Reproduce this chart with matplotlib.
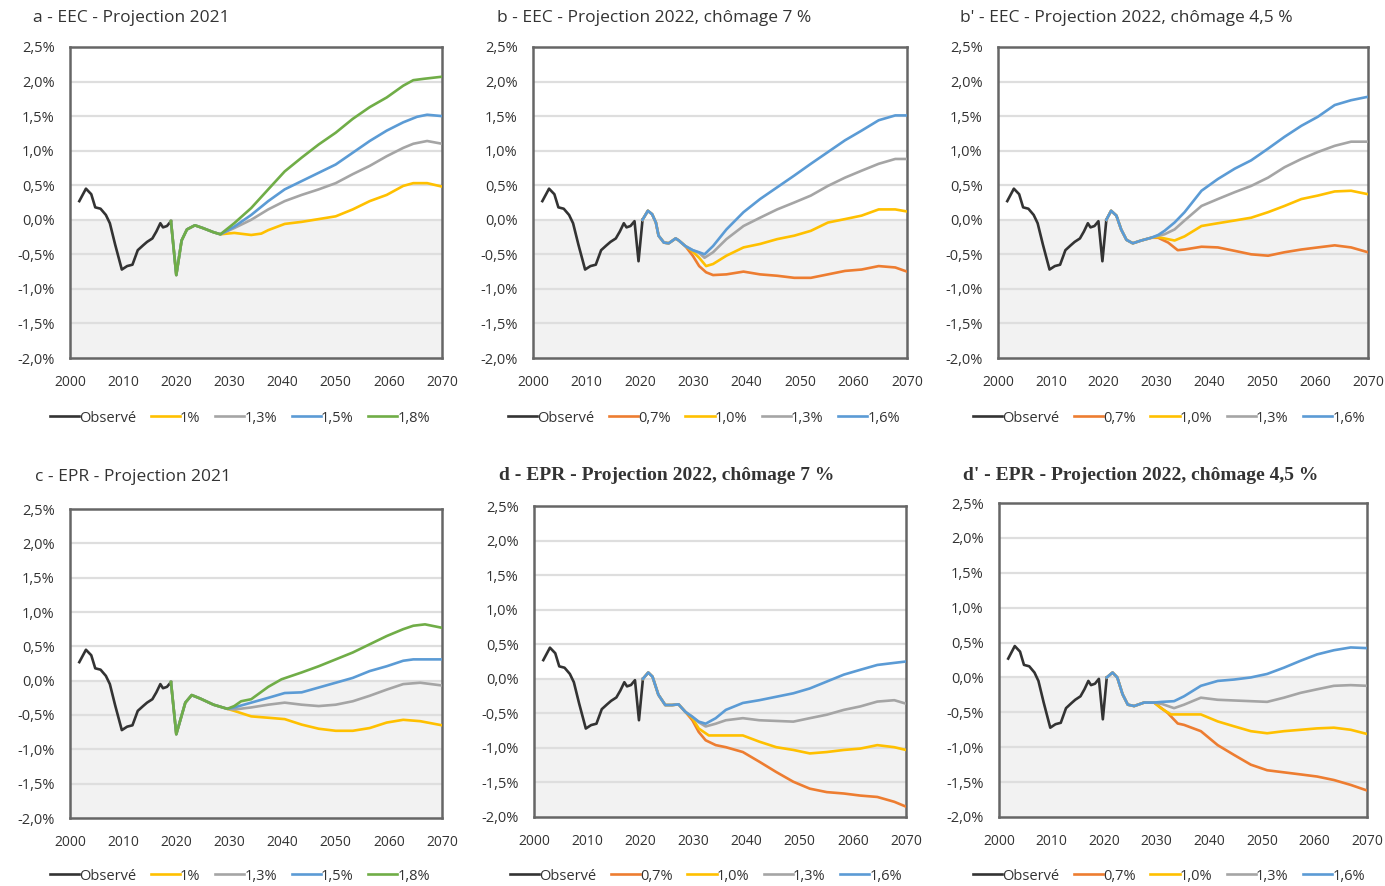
"""
Six panels: EEC / EPR, projections 2021 and 2022 (chômage 7 % / 4,5 %)
"""
import matplotlib
matplotlib.use("Agg")
import matplotlib.pyplot as plt
from matplotlib.ticker import FuncFormatter

plt.rcParams["font.family"] = ["Open Sans", "DejaVu Sans"]

# ── Data ──────────────────────────────────────────────────────────────────────
obs_years = [2001.75, 2003.0, 2004.0, 2004.75, 2005.75, 2006.75, 2007.5, 2008.5,
             2009.75, 2010.75, 2011.75, 2012.75, 2013.75, 2014.5, 2015.5, 2016.25,
             2017.0, 2017.5, 2018.25, 2019.0, 2019.75, 2020.5]
obs_values = [0.27, 0.45, 0.37, 0.18, 0.16, 0.07, -0.05, -0.36,
              -0.72, -0.67, -0.65, -0.44, -0.37, -0.32, -0.27, -0.17,
              -0.05, -0.11, -0.09, -0.02, -0.60, 0.00]
obs_end_2021 = 2019.0   # observed part shown in the 2021 projections

labels_2021 = ["1%", "1,3%", "1,5%", "1,8%"]
labels_2022 = ["0,7%", "1,0%", "1,3%", "1,6%"]

# panel a - EEC 2021
a_common_years = [2019.0, 2020.0, 2021.0, 2022.0, 2023.5, 2025.0, 2027.0, 2028.3]
a_common_values = [-0.02, -0.80, -0.30, -0.14, -0.08, -0.12, -0.18, -0.21]
a_years = [
    [2030.9, 2034.1, 2036.0, 2037.3, 2040.4, 2043.6, 2046.8, 2050.0, 2053.2, 2056.4, 2059.6, 2062.7, 2064.6, 2067.2, 2070],
    [2030.9, 2034.1, 2037.3, 2040.4, 2043.6, 2046.8, 2050.0, 2053.2, 2056.4, 2059.6, 2062.7, 2064.6, 2067.2, 2070],
    [2030.9, 2034.1, 2037.3, 2040.4, 2043.6, 2046.8, 2050.0, 2053.2, 2056.4, 2059.6, 2062.7, 2065.3, 2067.2, 2070],
    [2030.9, 2034.1, 2037.3, 2040.4, 2043.6, 2046.8, 2050.0, 2053.2, 2056.4, 2059.6, 2062.7, 2064.6, 2066.6, 2070],
]
a_values = [
    [-0.19, -0.22, -0.20, -0.15, -0.06, -0.03, 0.01, 0.05, 0.15, 0.27, 0.36, 0.49, 0.53, 0.53, 0.48],
    [-0.12, 0.00, 0.15, 0.27, 0.36, 0.44, 0.53, 0.66, 0.78, 0.92, 1.04, 1.10, 1.14, 1.10],
    [-0.10, 0.07, 0.27, 0.44, 0.56, 0.68, 0.80, 0.97, 1.14, 1.29, 1.41, 1.49, 1.52, 1.50],
    [-0.05, 0.17, 0.44, 0.70, 0.90, 1.09, 1.26, 1.46, 1.63, 1.77, 1.94, 2.02, 2.04, 2.07],
]

# panel c - EPR 2021
c_common_years = [2019.0, 2020.0, 2021.7, 2022.9, 2024.5, 2027.0, 2029.6]
c_common_values = [-0.02, -0.78, -0.32, -0.21, -0.26, -0.35, -0.41]
c_years = [
    [2030.9, 2034.1, 2037.3, 2040.4, 2043.6, 2046.8, 2050.0, 2053.2, 2056.4, 2059.6, 2062.7, 2065.9, 2070],
    [2030.9, 2034.1, 2037.3, 2040.4, 2043.6, 2046.8, 2050.0, 2053.2, 2056.4, 2059.6, 2062.7, 2065.9, 2070],
    [2030.9, 2034.1, 2037.3, 2040.4, 2043.6, 2046.8, 2050.0, 2053.2, 2056.4, 2059.6, 2062.7, 2064.6, 2070],
    [2030.9, 2032.2, 2034.1, 2037.3, 2039.8, 2043.6, 2046.8, 2050.0, 2053.2, 2056.4, 2059.6, 2062.7, 2064.6, 2066.8, 2070],
]
c_values = [
    [-0.44, -0.52, -0.54, -0.56, -0.64, -0.70, -0.73, -0.73, -0.69, -0.61, -0.57, -0.59, -0.65],
    [-0.42, -0.39, -0.35, -0.32, -0.35, -0.37, -0.35, -0.30, -0.22, -0.13, -0.05, -0.03, -0.07],
    [-0.39, -0.32, -0.25, -0.18, -0.17, -0.10, -0.03, 0.04, 0.14, 0.21, 0.29, 0.31, 0.31],
    [-0.37, -0.30, -0.27, -0.09, 0.02, 0.12, 0.21, 0.31, 0.41, 0.53, 0.65, 0.75, 0.80, 0.82, 0.77],
]

# panel b - EEC 2022, chômage 7 %
b_common_years = [2020.5, 2021.5, 2022.3, 2023.0, 2023.5, 2024.5, 2025.4, 2026.7, 2027.3, 2028.5]
b_common_values = [0.00, 0.13, 0.08, -0.04, -0.23, -0.33, -0.34, -0.27, -0.30, -0.38]
b_years = [
    [2029.9, 2031.1, 2032.4, 2033.7, 2036.2, 2039.4, 2042.5, 2045.7, 2048.9, 2052.0, 2055.2, 2058.4, 2061.5, 2064.7, 2067.8, 2070],
    [2029.9, 2031.1, 2032.4, 2033.7, 2036.2, 2039.4, 2042.5, 2045.7, 2048.9, 2052.0, 2055.2, 2058.4, 2061.5, 2064.7, 2067.8, 2070],
    [2029.9, 2031.1, 2032.1, 2033.7, 2036.2, 2039.4, 2042.5, 2045.7, 2048.9, 2052.0, 2055.2, 2058.4, 2061.5, 2064.7, 2067.8, 2070],
    [2029.9, 2031.1, 2032.1, 2033.7, 2036.2, 2039.4, 2042.5, 2045.7, 2048.9, 2052.0, 2055.2, 2058.4, 2061.5, 2064.7, 2067.8, 2070],
]
b_values = [
    [-0.52, -0.67, -0.76, -0.80, -0.79, -0.75, -0.79, -0.81, -0.84, -0.84, -0.79, -0.74, -0.72, -0.67, -0.69, -0.75],
    [-0.46, -0.55, -0.67, -0.64, -0.52, -0.40, -0.35, -0.28, -0.23, -0.16, -0.04, 0.01, 0.06, 0.15, 0.15, 0.12],
    [-0.44, -0.48, -0.55, -0.47, -0.28, -0.09, 0.03, 0.15, 0.25, 0.35, 0.49, 0.61, 0.71, 0.81, 0.88, 0.88],
    [-0.44, -0.47, -0.50, -0.38, -0.14, 0.11, 0.30, 0.47, 0.64, 0.81, 0.98, 1.15, 1.29, 1.44, 1.51, 1.51],
]

# panel b' - EEC 2022, chômage 4,5 %
bp_common_years = [2020.5, 2021.4, 2022.4, 2023.3, 2024.3, 2025.5, 2027.1, 2029.0]
bp_common_values = [0.00, 0.13, 0.06, -0.14, -0.29, -0.34, -0.30, -0.26]
bp_years = [
    [2030.3, 2032.2, 2034.0, 2035.3, 2038.5, 2041.6, 2044.8, 2047.9, 2051.1, 2054.2, 2057.4, 2060.5, 2063.7, 2066.8, 2070],
    [2030.3, 2031.5, 2033.4, 2035.3, 2038.5, 2041.6, 2044.8, 2047.9, 2051.1, 2054.2, 2057.4, 2060.5, 2063.7, 2066.8, 2070],
    [2030.3, 2031.5, 2033.4, 2035.3, 2038.5, 2041.6, 2044.8, 2047.9, 2051.1, 2054.2, 2057.4, 2060.5, 2063.7, 2066.8, 2070],
    [2030.3, 2031.5, 2033.4, 2035.3, 2038.5, 2041.6, 2044.8, 2047.9, 2051.1, 2054.2, 2057.4, 2060.5, 2063.7, 2066.8, 2070],
]
bp_values = [
    [-0.26, -0.33, -0.44, -0.43, -0.39, -0.40, -0.45, -0.50, -0.52, -0.47, -0.43, -0.40, -0.37, -0.40, -0.47],
    [-0.25, -0.27, -0.30, -0.24, -0.09, -0.05, -0.01, 0.03, 0.11, 0.20, 0.30, 0.35, 0.41, 0.42, 0.37],
    [-0.23, -0.21, -0.14, -0.01, 0.20, 0.30, 0.40, 0.49, 0.61, 0.76, 0.88, 0.98, 1.07, 1.13, 1.13],
    [-0.22, -0.16, -0.04, 0.11, 0.42, 0.59, 0.74, 0.86, 1.03, 1.20, 1.36, 1.49, 1.66, 1.73, 1.78],
]

# panel d - EPR 2022, chômage 7 %
d_common_years = [2020.5, 2021.5, 2022.3, 2023.4, 2024.7, 2026.0, 2027.2, 2028.5]
d_common_values = [0.00, 0.09, 0.03, -0.23, -0.38, -0.38, -0.37, -0.48]
d_years = [
    [2029.8, 2031.0, 2032.3, 2034.2, 2036.1, 2039.3, 2042.4, 2045.6, 2048.8, 2051.9, 2055.1, 2058.3, 2061.4, 2064.6, 2067.8, 2070],
    [2029.8, 2031.0, 2032.9, 2036.1, 2039.3, 2042.4, 2045.6, 2048.8, 2051.9, 2055.1, 2058.3, 2061.4, 2064.6, 2067.8, 2070],
    [2029.8, 2031.0, 2032.3, 2034.2, 2036.1, 2039.3, 2042.4, 2045.6, 2048.8, 2051.9, 2055.1, 2058.3, 2061.4, 2064.6, 2067.8, 2070],
    [2029.8, 2031.0, 2032.3, 2034.2, 2036.1, 2039.3, 2042.4, 2045.6, 2048.8, 2051.9, 2055.1, 2058.3, 2061.4, 2064.6, 2067.8, 2070],
]
d_values = [
    [-0.60, -0.77, -0.89, -0.96, -0.99, -1.06, -1.20, -1.35, -1.49, -1.59, -1.64, -1.66, -1.69, -1.71, -1.78, -1.85],
    [-0.57, -0.72, -0.82, -0.82, -0.82, -0.91, -0.99, -1.03, -1.08, -1.06, -1.03, -1.01, -0.96, -0.99, -1.03],
    [-0.55, -0.63, -0.69, -0.65, -0.60, -0.57, -0.60, -0.61, -0.62, -0.57, -0.52, -0.45, -0.40, -0.33, -0.31, -0.36],
    [-0.55, -0.62, -0.65, -0.57, -0.45, -0.35, -0.31, -0.26, -0.21, -0.14, -0.04, 0.06, 0.13, 0.20, 0.23, 0.25],
]

# panel d' - EPR 2022, chômage 4,5 %
dp_common_years = [2020.5, 2021.6, 2022.5, 2023.5, 2024.5, 2025.7, 2027.6, 2029.5]
dp_common_values = [0.00, 0.07, 0.00, -0.24, -0.39, -0.41, -0.36, -0.36]
dp_years = [
    [2030.2, 2032.1, 2034.0, 2035.2, 2038.4, 2041.6, 2044.7, 2047.9, 2051.0, 2054.2, 2057.4, 2060.5, 2063.7, 2066.9, 2070],
    [2030.8, 2032.7, 2035.2, 2038.4, 2041.6, 2044.7, 2047.9, 2051.0, 2054.2, 2057.4, 2060.5, 2063.7, 2066.9, 2070],
    [2031.0, 2033.3, 2035.2, 2038.4, 2041.6, 2044.7, 2047.9, 2051.0, 2054.2, 2057.4, 2060.5, 2063.7, 2066.9, 2070],
    [2031.0, 2033.3, 2035.2, 2038.4, 2041.6, 2044.7, 2047.9, 2051.0, 2054.2, 2057.4, 2060.5, 2063.7, 2066.9, 2070],
]
dp_values = [
    [-0.40, -0.51, -0.66, -0.68, -0.77, -0.97, -1.11, -1.25, -1.33, -1.36, -1.39, -1.42, -1.47, -1.54, -1.62],
    [-0.44, -0.53, -0.53, -0.53, -0.63, -0.70, -0.77, -0.80, -0.77, -0.75, -0.73, -0.72, -0.75, -0.81],
    [-0.38, -0.44, -0.39, -0.29, -0.32, -0.33, -0.34, -0.35, -0.29, -0.22, -0.17, -0.12, -0.11, -0.12],
    [-0.35, -0.34, -0.27, -0.12, -0.05, -0.03, 0.00, 0.05, 0.14, 0.24, 0.33, 0.39, 0.43, 0.42],
]

# ── Style ─────────────────────────────────────────────────────────────────────
OBS_COLOR = "#333333"
COLORS_2021 = ["#FFC000", "#A5A5A5", "#5B9BD5", "#70AD47"]
COLORS_2022 = ["#ED7D31", "#FFC000", "#A5A5A5", "#5B9BD5"]
TEXT = "#333333"

W, H = 1385, 886
fig = plt.figure(figsize=(W / 100, H / 100), dpi=100)
fig.patch.set_facecolor("white")

# title, axes box in px (left, top, right, bottom), title x/y px, legend centre x/y px, serif title
panels = [
    ("a - EEC - Projection 2021", (70, 47, 442, 358), 33, 18, 240, 418, False,
     a_common_years, a_common_values, a_years, a_values, labels_2021, COLORS_2021, obs_end_2021),
    ("b - EEC - Projection 2022, chômage 7 %", (533, 47, 907, 358), 497, 18, 704, 418, False,
     b_common_years, b_common_values, b_years, b_values, labels_2022, COLORS_2022, None),
    ("b' - EEC - Projection 2022, chômage 4,5 %", (998, 47, 1368, 358), 960, 18, 1169, 418, False,
     bp_common_years, bp_common_values, bp_years, bp_values, labels_2022, COLORS_2022, None),
    ("c - EPR - Projection 2021", (70, 509, 442, 818), 35, 477, 240, 876, False,
     c_common_years, c_common_values, c_years, c_values, labels_2021, COLORS_2021, obs_end_2021),
    ("d - EPR - Projection 2022, chômage 7 %", (534, 506, 906, 817), 499, 475, 706, 876, True,
     d_common_years, d_common_values, d_years, d_values, labels_2022, COLORS_2022, None),
    ("d' - EPR - Projection 2022, chômage 4,5 %", (999, 503, 1367, 817), 963, 475, 1169, 876, True,
     dp_common_years, dp_common_values, dp_years, dp_values, labels_2022, COLORS_2022, None),
]

pct = FuncFormatter(lambda v, _: f"{v:.1f}%".replace(".", ","))

for (title, (l, t, r, b), tx, ty, lx, ly, serif,
     cy, cv, sy, sv, labels, colors, obs_end) in panels:
    ax = fig.add_axes([l / W, 1 - b / H, (r - l) / W, (b - t) / H])
    ax.set_xlim(2000, 2070)
    ax.set_ylim(-2.0, 2.5)

    # grey band below zero + grid
    ax.axhspan(-2.0, 0.0, color="#f2f2f2", zorder=0, lw=0)
    for g in [-1.5, -1.0, -0.5, 0.0, 0.5, 1.0, 1.5, 2.0]:
        ax.axhline(g, color="#dedede", lw=1.6, zorder=1)

    # observed
    if obs_end is None:
        ox, oy = obs_years, obs_values
    else:
        ox = [x for x in obs_years if x <= obs_end]
        oy = obs_values[:len(ox)]
    ax.plot(ox, oy, color=OBS_COLOR, lw=1.9, zorder=3, label="Observé",
            solid_joinstyle="round")

    # scenarios: common start then divergence
    for yrs, vals, lab, col in zip(sy, sv, labels, colors):
        ax.plot(cy + yrs, cv + vals, color=col, lw=1.9, zorder=3, label=lab,
                solid_joinstyle="round")

    ax.set_yticks([-2.0, -1.5, -1.0, -0.5, 0.0, 0.5, 1.0, 1.5, 2.0, 2.5])
    ax.yaxis.set_major_formatter(pct)
    ax.set_xticks(range(2000, 2071, 10))
    ax.tick_params(length=0, labelsize=10.5, colors=TEXT)
    ax.tick_params(axis="x", labelsize=10, pad=12)
    ax.tick_params(axis="y", pad=11)
    for s in ax.spines.values():
        s.set_color("#666666")
        s.set_linewidth(1.8)

    if serif:
        fig.text(tx / W, 1 - ty / H, title, fontsize=14, fontweight="bold",
                 family=["Liberation Serif", "DejaVu Serif"], color=TEXT,
                 ha="left", va="center")
    else:
        fig.text(tx / W, 1 - ty / H, title, fontsize=12.5, color=TEXT,
                 ha="left", va="center")

    fig.legend(*ax.get_legend_handles_labels(), loc="center",
               bbox_to_anchor=(lx / W, 1 - ly / H), ncol=5, frameon=False,
               fontsize=10.5, handlelength=2.0, handletextpad=0.0,
               columnspacing=1.0, labelcolor=TEXT)

fig.savefig("out.png", dpi=100, facecolor="white")
